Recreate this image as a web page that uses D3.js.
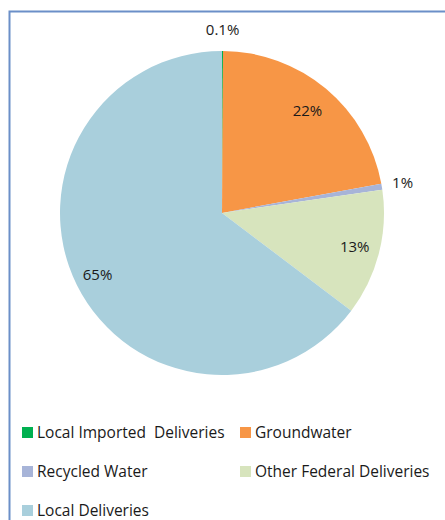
<!DOCTYPE html>
<html>
<head>
<meta charset="utf-8">
<script src="https://cdn.jsdelivr.net/npm/d3@7"></script>
<style>
  body { margin: 0; background: #fff; }
  svg text { font-family: "Open Sans", "Liberation Sans", sans-serif; fill: #1a1a1a; }
</style>
</head>
<body>
<svg id="chart" width="445" height="520"></svg>
<script>
// slice data, clockwise from 12 o'clock
const categories = ["Local Imported  Deliveries", "Groundwater", "Recycled Water", "Other Federal Deliveries", "Local Deliveries"];
const shares = [0.1, 22, 0.6, 12.6, 64.7];
const sliceLabels = ["0.1%", "22%", "1%", "13%", "65%"];
const colors = ["#00b050", "#f79646", "#a7b4d8", "#d7e4bd", "#a9cfdc"];

const svg = d3.select("#chart");

// chart frame (cut off on right and bottom)
svg.append("path")
  .attr("d", "M9.5,520 V11.5 H445")
  .attr("fill", "none")
  .attr("stroke", "#6b8fc8")
  .attr("stroke-width", 2);

const cx = 222, cy = 213, r = 162;

const pie = d3.pie().sort(null).value(d => d)(shares);
const arc = d3.arc().innerRadius(0).outerRadius(r);

const g = svg.append("g").attr("transform", `translate(${cx},${cy})`);

g.selectAll("path.slice")
  .data(pie)
  .join("path")
  .attr("class", "slice")
  .attr("d", arc)
  .attr("fill", (d, i) => colors[i]);

// label radius per slice (small slices are labelled outside)
const labelRadius = [183, 133, 183, 137, 139];
const labelArc = i => d3.arc().innerRadius(labelRadius[i]).outerRadius(labelRadius[i]);

g.selectAll("text.lbl")
  .data(pie)
  .join("text")
  .attr("class", "lbl")
  .attr("transform", (d, i) => {
    const c = labelArc(i).centroid(d);
    return `translate(${c[0]},${c[1]})`;
  })
  .attr("text-anchor", "middle")
  .attr("dy", "0.35em")
  .style("font-size", "15px")
  .text((d, i) => sliceLabels[i]);

// legend
const legendX = d3.scalePoint().domain([0, 1]).range([22, 240]);
const legendY = d3.scalePoint().domain([0, 1, 2]).range([433, 511]);

const leg = svg.append("g").selectAll("g")
  .data(categories)
  .join("g")
  .attr("transform", (d, i) => `translate(${legendX(i % 2)},${legendY(Math.floor(i / 2))})`);

leg.append("rect")
  .attr("x", 0).attr("y", -6)
  .attr("width", 11).attr("height", 11)
  .attr("fill", (d, i) => colors[i]);

leg.append("text")
  .attr("x", 15)
  .attr("dy", "0.35em")
  .style("font-size", "15.5px")
  .style("white-space", "pre")
  .attr("xml:space", "preserve")
  .text(d => d);
</script>
</body>
</html>
